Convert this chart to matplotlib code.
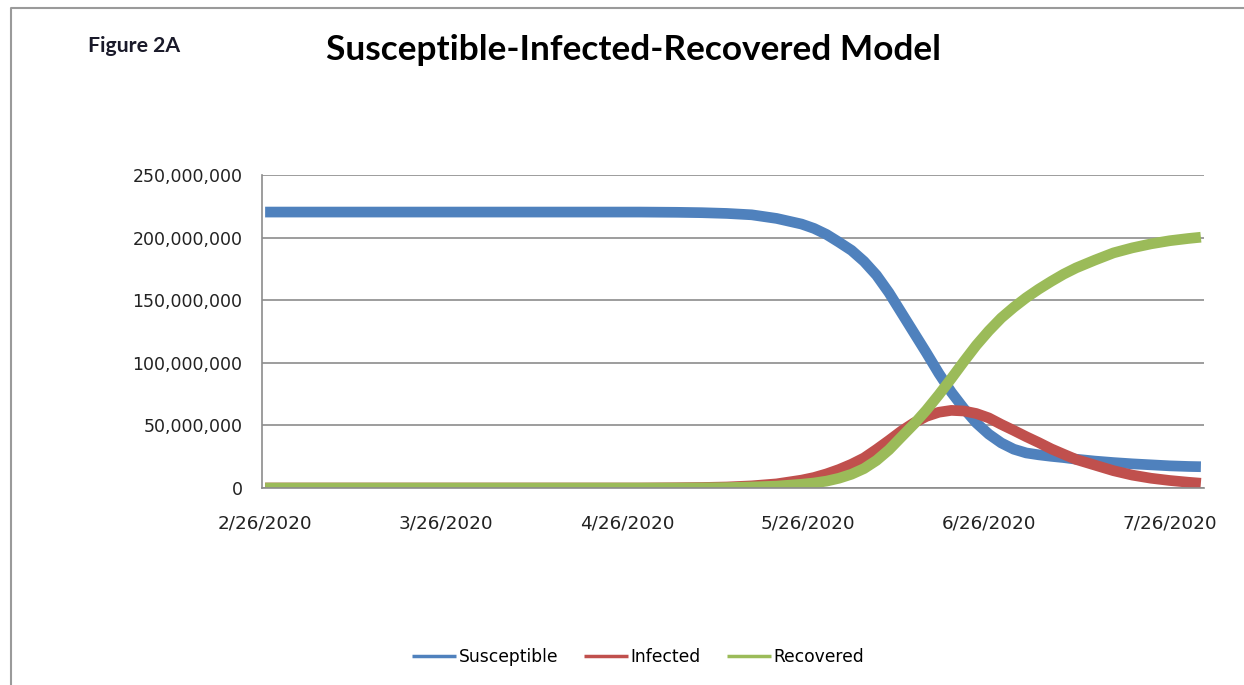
import matplotlib
matplotlib.use("Agg")
import matplotlib.pyplot as plt
from matplotlib.lines import Line2D
from matplotlib.ticker import FuncFormatter

# day offset from 2/26/2020 (category slots on the Excel axis)
days = [0, 10, 20, 30, 40, 50, 60, 66, 70, 74, 78, 82, 86, 88, 90, 92, 94, 96, 98,
        100, 102, 104, 106, 108, 110, 112, 114, 116, 118, 120, 122, 124, 126, 128,
        130, 133, 136, 139, 142, 145, 148, 150]

# values in millions of people
susceptible = [220.4, 220.4, 220.4, 220.4, 220.4, 220.4, 220.4, 220.2, 219.9, 219.3,
               218.2, 215.3, 210.8, 207.3, 202.5, 196.3, 189.8, 181.0, 170.0,
               156.0, 140.0, 124.0, 108.0, 91.5, 76.5, 63.5, 52.0, 43.0, 36.0, 31.0,
               28.0, 26.5, 25.3, 24.3, 23.0, 21.5, 20.3, 19.3, 18.5, 17.7, 17.2, 17.0]
infected = [0, 0, 0, 0, 0, 0, 0, 0.2, 0.4, 0.8, 1.7, 3.3, 6.3, 8.4, 11.3, 14.8,
            19.0, 24.0, 30.8, 38.0, 45.5, 52.0, 57.2, 60.5, 62.0, 61.5, 59.5, 56.0,
            50.8, 46.0, 41.0, 36.3, 31.3, 27.0, 22.8, 18.3, 13.8, 10.3, 7.8, 6.0,
            4.6, 3.8]
recovered = [0, 0, 0, 0, 0, 0, 0, 0, 0.1, 0.3, 0.8, 1.5, 3.0, 4.0, 5.5, 7.8, 11.0,
             15.5, 22.0, 30.5, 40.8, 51.0, 62.2, 74.5, 87.5, 101.0, 114.0, 125.5,
             135.8, 144.3, 152.0, 158.8, 165.0, 170.8, 175.8, 182.0, 187.8, 191.8,
             195.0, 197.5, 199.3, 200.3]

tick_days = [0, 29, 58, 87, 116, 145]
tick_labels = ["2/26/2020", "3/26/2020", "4/26/2020", "5/26/2020", "6/26/2020", "7/26/2020"]

blue = "#4F81BD"
red = "#C0504D"
green = "#9BBB59"
grid_grey = "#8C8C8C"

fig = plt.figure(figsize=(12.44, 6.85), dpi=100)
ax = fig.add_axes([262 / 1244, 1 - 488 / 685, 942 / 1244, 313 / 685])

for vals, col, name in [(susceptible, blue, "Susceptible"), (infected, red, "Infected"),
                        (recovered, green, "Recovered")]:
    ax.plot(days, [v * 1e6 for v in vals], color=col, lw=7.7, label=name,
            solid_capstyle="butt", solid_joinstyle="round")

ax.set_xlim(-0.5, 150.5)
ax.set_ylim(0, 250e6)
ax.set_yticks([0, 50e6, 100e6, 150e6, 200e6, 250e6])
ax.yaxis.set_major_formatter(FuncFormatter(lambda v, p: "{:,.0f}".format(v)))
ax.set_xticks(tick_days)
ax.set_xticklabels(tick_labels)
ax.tick_params(axis="both", length=0, colors="#222222")
ax.tick_params(axis="y", pad=14, labelsize=12.5)
ax.tick_params(axis="x", pad=19, labelsize=13.2)
ax.grid(axis="y", color=grid_grey, lw=1.2)
ax.set_axisbelow(True)
for s in ["top", "right"]:
    ax.spines[s].set_visible(False)
for s in ["left", "bottom"]:
    ax.spines[s].set_color(grid_grey)
    ax.spines[s].set_linewidth(1.2)

# legend at the bottom, thin handles like Excel
leg = fig.legend(loc="center", bbox_to_anchor=(638 / 1244, 1 - 657 / 685), ncol=3,
                 frameon=False, fontsize=12.3, handlelength=2.6, columnspacing=1.5,
                 handletextpad=0.15)
for ln in leg.get_lines():
    ln.set_linewidth(2.5)

# titles
fig.text(633 / 1244, 1 - 50 / 685, "Susceptible-Infected-Recovered Model", ha="center",
         va="center", fontsize=25.4, fontweight="bold", family="Lato")
fig.text(88 / 1244, 1 - 46 / 685, "Figure 2A", ha="left", va="center", fontsize=15.3,
         fontweight="bold", family="Lato", color="#1a1a2a")

# outer chart border (top and left visible)
fig.add_artist(Line2D([11 / 1244, 11 / 1244, 1], [0, 1 - 8 / 685, 1 - 8 / 685],
                      transform=fig.transFigure, color="#9a9a9a", lw=1.5))

fig.savefig("out.png", dpi=100)
